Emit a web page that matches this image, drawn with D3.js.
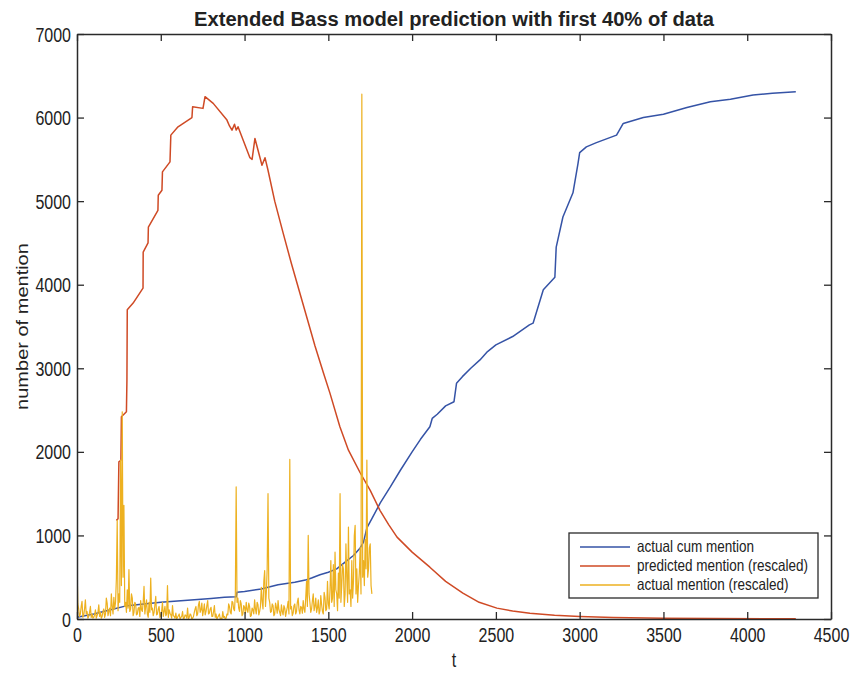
<!DOCTYPE html>
<html>
<head>
<meta charset="utf-8">
<script src="https://cdn.jsdelivr.net/npm/d3@7"></script>
<style>
  body { margin: 0; background: #fff; }
  text { font-family: "Liberation Sans", Arial, Helvetica, sans-serif; fill: #222; }
</style>
</head>
<body>
<svg id="chart" width="857" height="673"></svg>
<script>
// ---- data ----
const chartTitle = "Extended Bass model prediction with first 40% of data";
const xLabel = "t";
const yLabel = "number of mention";
const seriesNames = ["actual cum mention", "predicted mention (rescaled)", "actual mention (rescaled)"];
const xTicks = [0, 500, 1000, 1500, 2000, 2500, 3000, 3500, 4000, 4500];
const yTicks = [0, 1000, 2000, 3000, 4000, 5000, 6000, 7000];

// actual cumulative mentions
const cumT   = [0, 100, 200, 300, 400, 500, 600, 700, 800, 880, 950, 955, 1000, 1100, 1140, 1200, 1300, 1370, 1400, 1450, 1500, 1550, 1600, 1650, 1690, 1710, 1730, 1760, 1810, 1870, 1930, 2000, 2050, 2106, 2120, 2150, 2200, 2250, 2265, 2300, 2350, 2405, 2450, 2500, 2600, 2700, 2722, 2783, 2852, 2860, 2900, 2960, 2990, 3000, 3040, 3100, 3220, 3260, 3380, 3500, 3640, 3780, 3900, 4035, 4150, 4290];
const cumVal = [20, 60, 110, 160, 180, 200, 215, 230, 245, 260, 265, 320, 330, 360, 380, 410, 440, 470, 490, 530, 560, 600, 680, 760, 850, 920, 1090, 1200, 1390, 1580, 1780, 2000, 2150, 2300, 2400, 2450, 2550, 2600, 2820, 2900, 3000, 3100, 3200, 3280, 3380, 3520, 3540, 3940, 4090, 4450, 4810, 5100, 5450, 5580, 5650, 5700, 5790, 5930, 6000, 6040, 6120, 6190, 6220, 6270, 6290, 6310];

// model prediction (rescaled)
const predT   = [235, 245, 250, 262, 265, 295, 298, 300, 335, 394, 395, 424, 426, 483, 485, 507, 510, 555, 560, 603, 686, 690, 752, 764, 813, 895, 910, 925, 940, 950, 961, 1032, 1045, 1062, 1104, 1122, 1140, 1180, 1230, 1280, 1330, 1380, 1420, 1470, 1510, 1569, 1620, 1690, 1750, 1808, 1860, 1910, 2000, 2106, 2200, 2303, 2400, 2506, 2600, 2703, 2850, 3000, 3200, 3500, 3800, 4290];
const predVal = [1180, 1200, 1880, 1900, 2420, 2480, 2860, 3700, 3780, 3960, 4390, 4500, 4690, 4890, 5070, 5130, 5350, 5470, 5790, 5890, 6000, 6130, 6110, 6250, 6170, 5970, 5900, 5850, 5920, 5850, 5890, 5520, 5500, 5750, 5430, 5520, 5370, 5000, 4620, 4250, 3900, 3550, 3270, 2950, 2700, 2300, 2020, 1750, 1540, 1300, 1130, 980, 800, 620, 450, 310, 200, 130, 95, 70, 45, 30, 18, 10, 6, 3];

// actual mentions (rescaled), one value every 5 time steps from t = 0
const mentionStep = 5;
const mentionVal = [
  650, 180, 120, 30, 60, 150, 210, 20, 40, 120, 230, 60, 90, 10, 30, 80, 150, 20, 60, 10,
  20, 50, 110, 10, 40, 80, 170, 30, 80, 10, 30, 90, 120, 20, 60, 250, 190, 40, 90, 130,
  40, 300, 150, 60, 260, 120, 200, 480, 1180, 100, 300, 200, 1900, 400, 2480, 500, 1360, 150, 200, 80,
  350, 130, 590, 90, 120, 300, 250, 40, 80, 200, 180, 50, 60, 130, 140, 30, 220, 110, 90, 200,
  390, 60, 150, 230, 60, 20, 200, 80, 490, 110, 130, 40, 80, 170, 270, 50, 60, 120, 150, 20,
  40, 90, 200, 30, 90, 150, 40, 60, 400, 20, 110, 70, 50, 10, 160, 40, 30, 10, 70, 0,
  20, 40, 60, 0, 20, 30, 90, 0, 10, 50, 40, 10, 130, 0, 20, 60, 50, 0, 10, 30,
  80, 120, 150, 40, 60, 170, 210, 80, 110, 190, 40, 100, 180, 50, 90, 160, 220, 60, 70, 120,
  140, 30, 30, 90, 160, 20, 60, 0, 20, 40, 60, 0, 10, 0, 90, 20, 30, 0, 10, 60,
  50, 180, 150, 80, 60, 210, 200, 120, 100, 300, 1580, 200, 250, 130, 90, 220, 180, 40, 60, 160,
  140, 70, 200, 110, 80, 190, 150, 30, 40, 130, 110, 60, 230, 120, 60, 200, 170, 50, 90, 150,
  380, 210, 120, 450, 580, 150, 320, 600, 1500, 250, 200, 80, 90, 180, 160, 40, 60, 190, 140, 70,
  220, 110, 80, 40, 170, 90, 50, 160, 130, 30, 90, 140, 210, 60, 1910, 120, 150, 40, 70, 160,
  180, 60, 90, 200, 250, 110, 60, 150, 140, 70, 220, 120, 80, 250, 450, 150, 1000, 300, 200, 80,
  120, 220, 300, 100, 150, 250, 80, 130, 230, 60, 100, 280, 170, 90, 60, 320, 260, 100, 120, 450,
  180, 120, 350, 700, 200, 250, 650, 150, 800, 350, 300, 100, 550, 250, 1500, 200, 400, 650, 600, 150,
  300, 900, 500, 200, 1100, 300, 350, 150, 700, 250, 450, 1000, 1120, 300, 600, 200, 400, 550, 850, 300,
  6280, 500, 700, 400, 950, 600, 1900, 500, 600, 850, 900, 400, 300
];

const seriesColors = ["#3553a6", "#cf4a25", "#edb120"];

// ---- layout ----
const STRETCH = 1.25;              // text is drawn slightly tall
const plot = { left: 77, top: 34, right: 831, bottom: 619 };
const svg = d3.select("#chart");

const x = d3.scaleLinear().domain([0, 4500]).range([plot.left, plot.right]);
const y = d3.scaleLinear().domain([0, 7000]).range([plot.bottom, plot.top]);

const line = d3.line().x(d => x(d[0])).y(d => y(d[1]));

const cumData = cumT.map((t, i) => [t, cumVal[i]]);
const predData = predT.map((t, i) => [t, predVal[i]]);
const mentionData = mentionVal.map((v, i) => [i * mentionStep, v]);

// clip lines to the axes box
svg.append("defs").append("clipPath").attr("id", "plotClip")
  .append("rect").attr("x", plot.left).attr("y", plot.top)
  .attr("width", plot.right - plot.left).attr("height", plot.bottom - plot.top);

const lines = svg.append("g").attr("clip-path", "url(#plotClip)");
lines.append("path").datum(cumData).attr("d", line)
  .attr("fill", "none").attr("stroke", seriesColors[0]).attr("stroke-width", 1.5).attr("stroke-linejoin", "round");
lines.append("path").datum(predData).attr("d", line)
  .attr("fill", "none").attr("stroke", seriesColors[1]).attr("stroke-width", 1.5).attr("stroke-linejoin", "round");
lines.append("path").datum(mentionData).attr("d", line)
  .attr("fill", "none").attr("stroke", seriesColors[2]).attr("stroke-width", 1.2).attr("stroke-linejoin", "round");

// ---- axes (ticks point inward, box on all four sides) ----
const axisColor = "#2a2a2a";
function styleAxis(g) {
  g.select(".domain").attr("stroke", axisColor).attr("stroke-width", 1.5);
  g.selectAll(".tick line").attr("stroke", axisColor).attr("stroke-width", 1.3);
}

const gBottom = svg.append("g").attr("transform", `translate(0,${plot.bottom})`)
  .call(d3.axisBottom(x).tickValues(xTicks).tickSizeInner(-7).tickSizeOuter(0).tickFormat(d3.format("d")));
styleAxis(gBottom);
gBottom.selectAll(".tick text")
  .attr("y", null).attr("dy", null)
  .attr("transform", `translate(0,23) scale(1,${STRETCH})`)
  .style("font-size", "16px").attr("fill", "#222");

const gLeft = svg.append("g").attr("transform", `translate(${plot.left},0)`)
  .call(d3.axisLeft(y).tickValues(yTicks).tickSizeInner(-7).tickSizeOuter(0).tickFormat(d3.format("d")));
styleAxis(gLeft);
gLeft.selectAll(".tick text")
  .attr("x", null).attr("dy", null)
  .attr("transform", `translate(-6,7) scale(1,${STRETCH})`)
  .attr("text-anchor", "end")
  .style("font-size", "16px").attr("fill", "#222");

const gTop = svg.append("g").attr("transform", `translate(0,${plot.top})`)
  .call(d3.axisTop(x).tickValues(xTicks).tickSizeInner(-7).tickSizeOuter(0).tickFormat(() => ""));
styleAxis(gTop);

const gRight = svg.append("g").attr("transform", `translate(${plot.right},0)`)
  .call(d3.axisRight(y).tickValues(yTicks).tickSizeInner(-7).tickSizeOuter(0).tickFormat(() => ""));
styleAxis(gRight);

// ---- titles ----
svg.append("text")
  .attr("transform", `translate(${(plot.left + plot.right) / 2},26) scale(1,${STRETCH})`)
  .attr("text-anchor", "middle")
  .attr("textLength", 520).attr("lengthAdjust", "spacingAndGlyphs")
  .style("font-size", "16px").style("font-weight", "bold")
  .text(chartTitle);

svg.append("text")
  .attr("transform", `translate(${(plot.left + plot.right) / 2},667) scale(1,${STRETCH})`)
  .attr("text-anchor", "middle")
  .style("font-size", "16px")
  .text(xLabel);

svg.append("text")
  .attr("transform", `translate(28,${(plot.top + plot.bottom) / 2}) scale(1,${STRETCH}) rotate(-90)`)
  .attr("text-anchor", "middle")
  .style("font-size", "16px")
  .text(yLabel);

// ---- legend ----
const legend = svg.append("g").attr("transform", "translate(569,533)");
legend.append("rect").attr("width", 249).attr("height", 65)
  .attr("fill", "#fff").attr("stroke", axisColor).attr("stroke-width", 1.3);
const rowY = [14, 33, 52];
seriesNames.forEach((name, i) => {
  legend.append("line")
    .attr("x1", 11).attr("x2", 61).attr("y1", rowY[i]).attr("y2", rowY[i])
    .attr("stroke", seriesColors[i]).attr("stroke-width", 1.5);
  legend.append("text")
    .attr("transform", `translate(68,${rowY[i] + 5}) scale(1,${STRETCH})`)
    .style("font-size", "13.5px")
    .text(name);
});
</script>
</body>
</html>
